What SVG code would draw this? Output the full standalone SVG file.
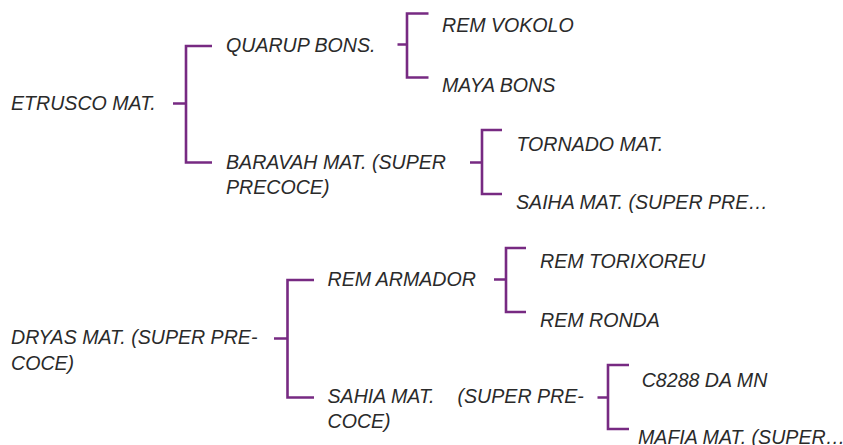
<svg xmlns="http://www.w3.org/2000/svg" width="843" height="445" viewBox="0 0 843 445">
<style>
.t{font-family:"Liberation Sans",Arial,sans-serif;font-style:italic;font-size:19.6px;fill:#2a2a2a;}
.c{fill:none;stroke:#772a82;stroke-width:2.6;stroke-linecap:butt;stroke-linejoin:miter;}
</style>
<rect width="843" height="445" fill="#ffffff"/>
<g id="connectors">
<path class="c" d="M173,103.5 H186 M212,46 H186 V162.5 H212"/>
<path class="c" d="M397.5,44.5 H407 M428.5,13.5 H407 V77.5 H428.5"/>
<path class="c" d="M470,162.5 H482 M502,130 H482 V194 H502"/>
<path class="c" d="M274,338.5 H287.5 M314,280 H287.5 V397.5 H314"/>
<path class="c" d="M494,279.5 H506 M526,248 H506 V312 H526"/>
<path class="c" d="M597.5,397.5 H608 M629,365 H608 V429 H629"/>
</g>
<g id="n-etrusco"><text class="t" x="11" y="109.5">ETRUSCO MAT.</text></g>
<g id="n-quarup"><text class="t" x="226" y="51.5">QUARUP BONS.</text></g>
<g id="n-remvokolo"><text class="t" x="442" y="32.3">REM VOKOLO</text></g>
<g id="n-mayabons"><text class="t" x="442" y="91.7">MAYA BONS</text></g>
<g id="n-baravah"><text class="t" x="226" y="168.5">BARAVAH MAT. (SUPER<tspan x="226" y="194.2">PRECOCE)</tspan></text></g>
<g id="n-tornado"><text class="t" x="516.5" y="151">TORNADO MAT.</text></g>
<g id="n-saiha"><text class="t" x="516" y="209">SAIHA MAT. (SUPER PRE…</text></g>
<g id="n-dryas"><text class="t" x="11" y="344">DRYAS MAT. (SUPER PRE-<tspan x="11" y="369.7">COCE)</tspan></text></g>
<g id="n-remarmador"><text class="t" x="327.5" y="286">REM ARMADOR</text></g>
<g id="n-remtorixoreu"><text class="t" x="540" y="268.3">REM TORIXOREU</text></g>
<g id="n-remronda"><text class="t" x="540" y="326.7">REM RONDA</text></g>
<g id="n-sahia"><text class="t" x="327.5" y="402.7">SAHIA MAT.<tspan x="457.5">(SUPER PRE-</tspan><tspan x="327.5" y="428.3">COCE)</tspan></text></g>
<g id="n-c8288"><text class="t" x="641.7" y="386.7">C8288 DA MN</text></g>
<g id="n-mafia"><text class="t" x="638" y="443.5">MAFIA MAT. (SUPER…</text></g>
</svg>
